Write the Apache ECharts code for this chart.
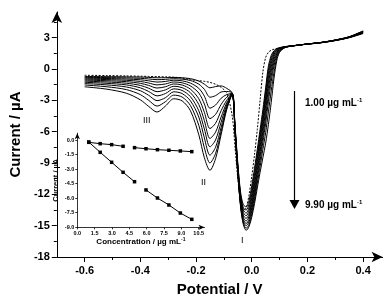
<!DOCTYPE html>
<html><head><meta charset="utf-8">
<script src="https://cdn.jsdelivr.net/npm/echarts@6/dist/echarts.min.js"></script>
<style>html,body{margin:0;padding:0;background:#fff}#c{width:392px;height:302px}</style>
</head><body><div id="c"></div>
<script>
// ---- main DPV data (potential in V, current in µA) ----
const potentials = [-0.60,-0.52,-0.45,-0.40,-0.37,-0.34,-0.31,-0.28,-0.25,-0.22,-0.19,-0.17,-0.15,-0.13,-0.11,-0.09,-0.07,-0.06,-0.05,-0.04,-0.03,-0.02,-0.01,0.00,0.01,0.02,0.03,0.04,0.05,0.06,0.07,0.08,0.09,0.10,0.12,0.15,0.20,0.25,0.30,0.35,0.40];
const blank  = [-0.60,-0.63,-0.66,-0.69,-0.71,-0.73,-0.75,-0.78,-0.86,-1.02,-1.12,-1.18,-1.28,-1.46,-1.75,-2.30,-4.50,-7.50,-10.50,-12.60,-13.50,-13.30,-12.10,-10.30,-8.20,-5.80,-3.00,-0.30,1.10,1.60,1.80,1.90,1.97,2.02,2.12,2.24,2.40,2.55,2.78,3.08,3.60];
const curve1 = [-0.72,-0.73,-0.75,-0.77,-0.80,-0.84,-0.83,-0.81,-0.84,-0.92,-1.15,-1.45,-1.80,-1.68,-1.62,-1.85,-2.30,-5.4,-9.0,-11.8,-13.0,-13.2,-12.6,-11.2,-9.5,-7.7,-5.8,-3.9,-1.8,0.3,1.3,1.75,1.95,2.05,2.15,2.24,2.38,2.52,2.72,3.00,3.40];
const curve2 = [-0.80,-0.82,-0.85,-0.89,-0.95,-1.02,-0.99,-0.93,-0.97,-1.10,-1.45,-1.95,-2.70,-2.55,-2.20,-2.15,-2.32,-5.5,-9.2,-12.0,-13.3,-13.5,-12.95,-11.6,-9.9,-8.1,-6.2,-4.3,-2.2,-0.1,1.1,1.65,1.9,2.02,2.14,2.24,2.38,2.52,2.73,3.01,3.43];
const curve3 = [-0.88,-0.91,-0.96,-1.03,-1.13,-1.25,-1.19,-1.07,-1.13,-1.35,-1.85,-2.60,-3.75,-3.45,-2.80,-2.45,-2.34,-5.6,-9.35,-12.2,-13.5,-13.8,-13.3,-12.0,-10.3,-8.5,-6.6,-4.7,-2.6,-0.5,0.85,1.55,1.85,1.98,2.13,2.23,2.39,2.53,2.73,3.02,3.46];
const curve4 = [-0.97,-1.01,-1.08,-1.19,-1.34,-1.52,-1.43,-1.24,-1.32,-1.62,-2.30,-3.35,-4.75,-4.35,-3.40,-2.70,-2.36,-5.7,-9.5,-12.4,-13.75,-14.05,-13.6,-12.35,-10.7,-8.9,-7.0,-5.1,-3.0,-0.9,0.55,1.4,1.8,1.95,2.12,2.23,2.39,2.53,2.74,3.03,3.49];
const curve5 = [-1.06,-1.12,-1.21,-1.37,-1.57,-1.82,-1.70,-1.43,-1.53,-1.93,-2.85,-4.15,-5.70,-5.20,-4.00,-3.00,-2.38,-5.8,-9.6,-12.6,-14.0,-14.3,-13.9,-12.7,-11.1,-9.3,-7.45,-5.55,-3.5,-1.35,0.2,1.2,1.7,1.9,2.11,2.23,2.39,2.53,2.75,3.04,3.52];
const curve6 = [-1.16,-1.24,-1.36,-1.57,-1.84,-2.17,-2.00,-1.65,-1.78,-2.27,-3.40,-4.95,-6.65,-6.05,-4.60,-3.25,-2.40,-5.85,-9.7,-12.75,-14.2,-14.55,-14.15,-13.0,-11.5,-9.7,-7.9,-6.0,-4.0,-1.85,-0.2,0.95,1.6,1.85,2.10,2.23,2.39,2.54,2.75,3.05,3.55];
const curve7 = [-1.27,-1.37,-1.52,-1.80,-2.15,-2.57,-2.35,-1.90,-2.05,-2.65,-4.00,-5.75,-7.45,-6.80,-5.10,-3.45,-2.40,-5.9,-9.8,-12.9,-14.4,-14.8,-14.4,-13.3,-11.85,-10.1,-8.35,-6.5,-4.6,-2.45,-0.65,0.65,1.45,1.8,2.09,2.22,2.40,2.54,2.76,3.06,3.58];
const curve8 = [-1.39,-1.52,-1.72,-2.08,-2.52,-3.03,-2.75,-2.18,-2.35,-3.05,-4.60,-6.60,-8.25,-7.50,-5.60,-3.65,-2.42,-5.95,-9.9,-13.0,-14.6,-15.0,-14.65,-13.6,-12.2,-10.5,-8.8,-7.0,-5.2,-3.1,-1.2,0.3,1.3,1.75,2.08,2.22,2.40,2.54,2.77,3.07,3.60];
const curve9 = [-1.53,-1.70,-1.97,-2.45,-3.00,-3.55,-3.13,-2.50,-2.68,-3.50,-5.40,-7.55,-9.00,-8.10,-6.00,-3.80,-2.42,-6.0,-9.95,-13.1,-14.75,-15.25,-14.9,-13.9,-12.55,-10.95,-9.35,-7.7,-6.1,-4.1,-2.1,-0.3,1.05,1.68,2.07,2.22,2.40,2.55,2.77,3.08,3.62];
const curve10= [-1.70,-1.93,-2.32,-2.95,-3.58,-4.12,-3.55,-2.85,-3.05,-4.00,-6.30,-8.50,-9.70,-8.60,-6.30,-3.90,-2.45,-6.05,-10.0,-13.2,-14.9,-15.45,-15.1,-14.2,-12.9,-11.4,-9.9,-8.5,-7.1,-5.3,-3.2,-0.9,0.8,1.6,2.05,2.22,2.40,2.55,2.78,3.10,3.65];

// ---- main axis ticks ----
const xTicks = [-0.6,-0.4,-0.2,0,0.2,0.4];
const xMinorTicks = [-0.5,-0.3,-0.1,0.1,0.3];
const yTicks = [-18,-15,-12,-9,-6,-3,0,3];
const yMinorTicks = [-16.5,-13.5,-10.5,-7.5,-4.5,-1.5,1.5,4.5];

// ---- inset calibration data (concentration µg/mL, current µA) ----
const insetConcA = [0.99,1.98,2.97,3.96];
const insetCurA  = [-0.24,-0.38,-0.48,-0.65];
const insetConcB = [4.95,5.94,6.93,7.92,8.91,9.90];
const insetCurB  = [-0.79,-0.90,-1.00,-1.06,-1.13,-1.20];
const insetConcC = [0.99,1.98,2.97,3.96,4.95];
const insetCurC  = [-0.21,-1.27,-2.30,-3.33,-4.30];
const insetConcD = [5.94,6.93,7.92,8.91,9.90];
const insetCurD  = [-5.15,-5.98,-6.70,-7.53,-8.18];
const insetXTicks = [0,1.5,3,4.5,6,7.5,9,10.5];
const insetYTicks = [0,-1.5,-3,-4.5,-6,-7.5,-9];

const FONT = '"Liberation Sans", Arial, Helvetica, sans-serif';
const chart = echarts.init(document.getElementById('c'), null, {renderer:'canvas'});
const pair = (xs, ys) => xs.map((x,i)=>[x, ys[i]]);

const curves = [curve1,curve2,curve3,curve4,curve5,curve6,curve7,curve8,curve9,curve10];
const series = curves.map((c,i)=>({
  name:'c'+(i+1), type:'line', xAxisIndex:0, yAxisIndex:0,
  data: pair(potentials, c), showSymbol:false, smooth:0.3,
  lineStyle:{color:'#000', width:1}, silent:true
}));
series.push({name:'blank', type:'line', xAxisIndex:0, yAxisIndex:0,
  data: pair(potentials, blank), showSymbol:false, smooth:0.3,
  lineStyle:{color:'#000', width:1, type:[2,1.5]}, silent:true});

const insetSeries = [[insetConcA,insetCurA],[insetConcB,insetCurB],[insetConcC,insetCurC],[insetConcD,insetCurD]];
insetSeries.forEach((s,i)=>series.push({
  name:'inset'+i, type:'line', xAxisIndex:2, yAxisIndex:2,
  data: pair(s[0], s[1]), symbol:'rect', symbolSize:3.5, showSymbol:true,
  itemStyle:{color:'#000'}, lineStyle:{color:'#000', width:1}, silent:true
}));

const axisLineMain = {show:true, onZero:false, symbol:['none','arrow'], symbolSize:[8,11], lineStyle:{color:'#000', width:1}};
const axisLineInset = {show:true, onZero:false, symbol:['none','arrow'], symbolSize:[4,6], lineStyle:{color:'#000', width:0.8}};

chart.setOption({
  animation:false,
  backgroundColor:'#fff',
  grid:[
    {left:48, top:12, right:9.4, bottom:43, containLabel:false},
    {left:77.3, top:133.2, width:127.2, height:94.1, containLabel:false}
  ],
  xAxis:[
    {type:'value', gridIndex:0, position:'bottom', min:-0.7, max:0.47,
     axisLine:axisLineMain,
     axisTick:{show:true, customValues:xTicks, length:5, inside:false, lineStyle:{color:'#000'}},
     axisLabel:{customValues:xTicks, formatter:v=>v.toFixed(1), margin:8, color:'#000', fontSize:11, fontWeight:'bold', fontFamily:FONT},
     splitLine:{show:false},
     name:'Potential / V', nameLocation:'middle', nameGap:25,
     nameTextStyle:{fontSize:15, fontWeight:'bold', color:'#000', fontFamily:FONT}},
    {type:'value', gridIndex:0, position:'bottom', min:-0.7, max:0.47,
     axisLine:{show:false, onZero:false},
     axisTick:{show:true, customValues:xMinorTicks, length:3, lineStyle:{color:'#000'}},
     axisLabel:{show:false}, splitLine:{show:false}},
    {type:'value', gridIndex:1, position:'bottom', min:0, max:11,
     axisLine:axisLineInset,
     axisTick:{show:true, customValues:insetXTicks, length:2, lineStyle:{color:'#000', width:0.8}},
     axisLabel:{customValues:insetXTicks, formatter:v=>v.toFixed(1), margin:3, color:'#000', fontSize:5.5, fontWeight:'bold', fontFamily:FONT},
     splitLine:{show:false},
     name:'{n|Concentration / µg mL}{s|-1}', nameLocation:'middle', nameGap:9,
     nameTextStyle:{color:'#000', fontFamily:FONT, rich:{
       n:{fontSize:8, fontWeight:'bold', color:'#000', fontFamily:FONT},
       s:{fontSize:5, fontWeight:'bold', color:'#000', fontFamily:FONT, verticalAlign:'top', padding:[0,0,5,0]}}}}
  ],
  yAxis:[
    {type:'value', gridIndex:0, position:'left', min:-18, max:5.46,
     axisLine:axisLineMain,
     axisTick:{show:true, customValues:yTicks, length:5, lineStyle:{color:'#000'}},
     axisLabel:{customValues:yTicks, formatter:v=>String(v), margin:7, color:'#000', fontSize:11, fontWeight:'bold', fontFamily:FONT},
     splitLine:{show:false},
     name:'Current / µA', nameLocation:'middle', nameGap:29,
     nameTextStyle:{fontSize:15, fontWeight:'bold', color:'#000', fontFamily:FONT}},
    {type:'value', gridIndex:0, position:'left', min:-18, max:5.46,
     axisLine:{show:false, onZero:false},
     axisTick:{show:true, customValues:yMinorTicks, length:3, lineStyle:{color:'#000'}},
     axisLabel:{show:false}, splitLine:{show:false}},
    {type:'value', gridIndex:1, position:'left', min:-9, max:0.7,
     axisLine:axisLineInset,
     axisTick:{show:true, customValues:insetYTicks, length:2, lineStyle:{color:'#000', width:0.8}},
     axisLabel:{customValues:insetYTicks, formatter:v=>v.toFixed(1), margin:3, color:'#000', fontSize:5.5, fontWeight:'bold', fontFamily:FONT},
     splitLine:{show:false},
     name:'Current / µA', nameLocation:'middle', nameGap:17,
     nameTextStyle:{fontSize:7.5, fontWeight:'bold', color:'#000', fontFamily:FONT}}
  ],
  series: series,
  graphic:[
    {type:'text', left:143, top:116, style:{text:'III', font:'9px '+FONT, fill:'#000'}},
    {type:'text', left:201, top:178, style:{text:'II', font:'9px '+FONT, fill:'#000'}},
    {type:'text', left:241, top:236, style:{text:'I', font:'9px '+FONT, fill:'#000'}},
    {type:'line', shape:{x1:294.5, y1:91, x2:294.5, y2:202}, style:{stroke:'#000', lineWidth:1.2}},
    {type:'polygon', shape:{points:[[289.5,200],[299.5,200],[294.5,209]]}, style:{fill:'#000'}},
    {type:'text', left:305, top:97, style:{text:'{n|1.00 µg mL}{s|-1}', fill:'#000',
      rich:{n:{font:'bold 10px '+FONT, fill:'#000'}, s:{font:'bold 6px '+FONT, fill:'#000', verticalAlign:'top', padding:[0,0,6,0]}}}},
    {type:'text', left:305, top:199, style:{text:'{n|9.90 µg mL}{s|-1}', fill:'#000',
      rich:{n:{font:'bold 10px '+FONT, fill:'#000'}, s:{font:'bold 6px '+FONT, fill:'#000', verticalAlign:'top', padding:[0,0,6,0]}}}}
  ]
});
</script>
</body></html>
